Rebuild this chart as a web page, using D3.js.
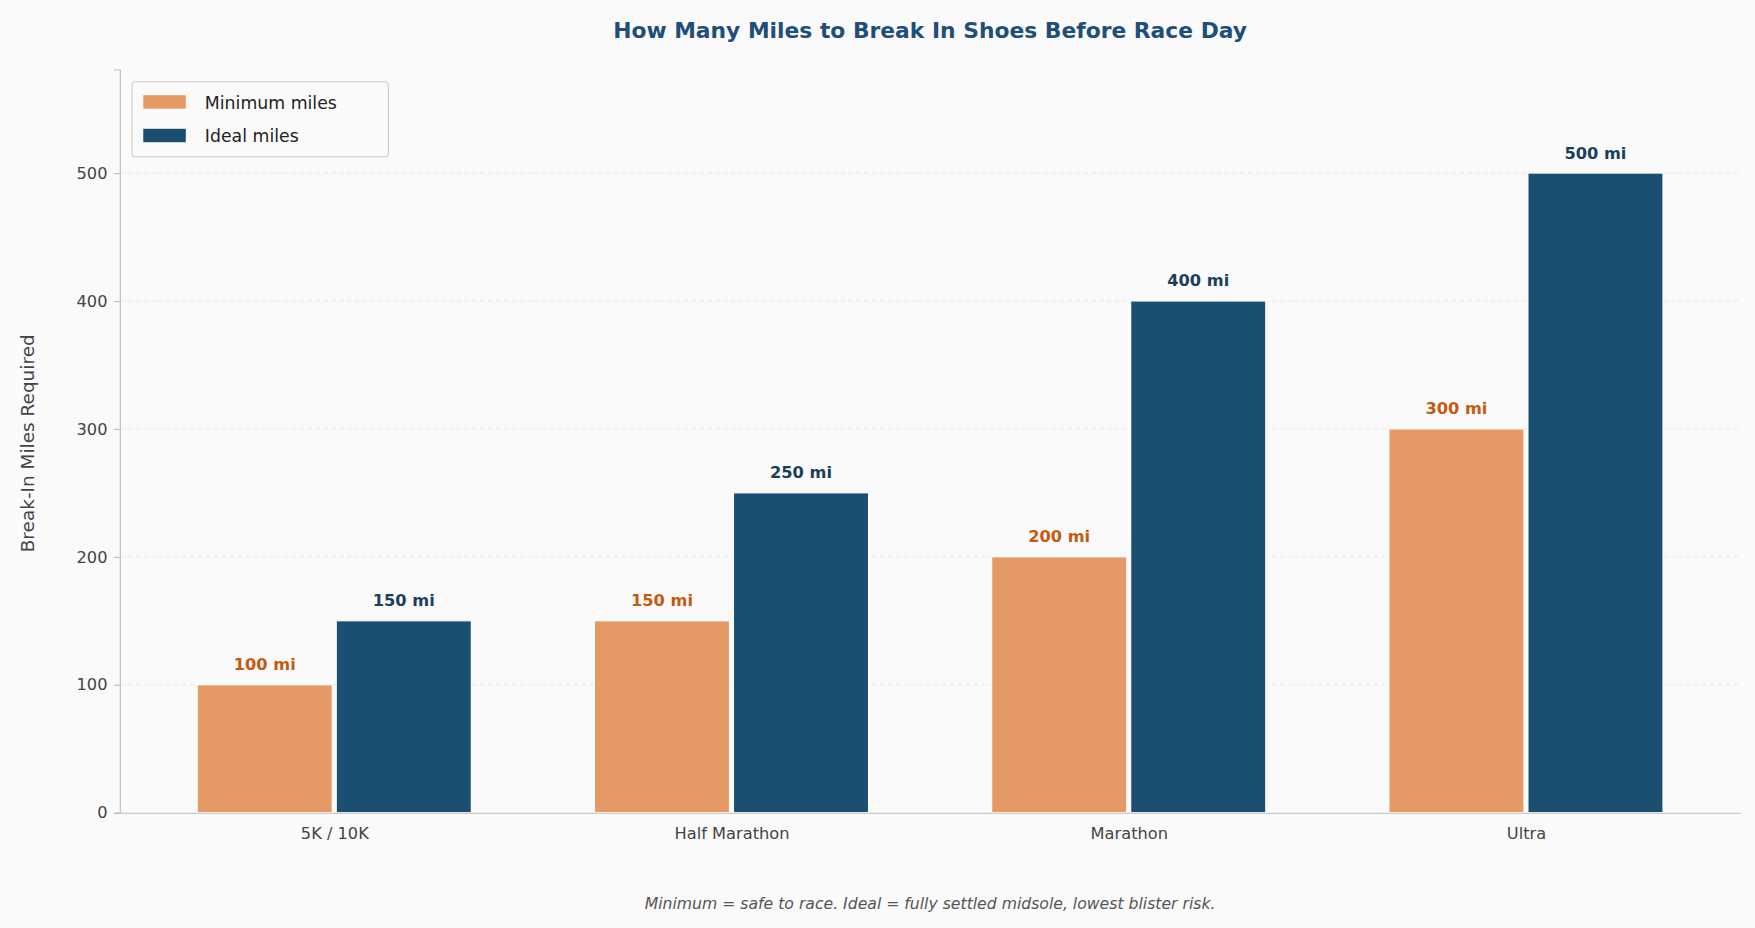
<!DOCTYPE html>
<html><head><meta charset="utf-8">
<script src="https://cdn.jsdelivr.net/npm/d3@7"></script>
<style>body{margin:0;background:#fafafa}svg{display:block}text{font-family:"DejaVu Sans",sans-serif}</style>
</head><body>
<svg id="c" width="1755" height="928" viewBox="0 0 1568 829"></svg>
<script>
const categories = ["5K / 10K","Half Marathon","Marathon","Ultra"];
const minimumMiles = [100,150,200,300];
const idealMiles = [150,250,400,500];
const yTicks = [0,100,200,300,400,500];
const seriesNames = ["Minimum miles","Ideal miles"];

const svg = d3.select("#c");
svg.append("rect").attr("width",1568).attr("height",829).attr("fill","#fafafa");
const L=107,R=1555,T=62,B=726;
const x = d3.scaleLinear().domain([-0.54,3.54]).range([L,R]);
const y = d3.scaleLinear().domain([0,581]).range([B,T]);
const colors=["#e59a66","#1b4f72"], lblColors=["#c55a11","#1b3f5a"];

svg.append("g").selectAll("line").data(yTicks.slice(1)).join("line")
 .attr("x1",L).attr("x2",R).attr("y1",d=>y(d)).attr("y2",d=>y(d))
 .attr("stroke","#e4e4e4").attr("stroke-dasharray","4,3").attr("stroke-width",0.8);

const bw=0.34;
[minimumMiles,idealMiles].forEach((arr,si)=>{
  const off = si===0 ? -bw-0.005 : 0.005;
  const g=svg.append("g");
  g.selectAll("rect").data(arr).join("rect")
   .attr("x",(d,i)=>x(i+off)).attr("width",x(bw)-x(0))
   .attr("y",d=>y(d)).attr("height",d=>B-y(d))
   .attr("fill",colors[si]).attr("stroke","#fff").attr("stroke-width",1);
  g.selectAll("text").data(arr).join("text")
   .attr("x",(d,i)=>x(i+off+bw/2)).attr("y",d=>y(d)-13)
   .attr("text-anchor","middle").attr("font-size",14.5).attr("font-weight","bold")
   .attr("fill",lblColors[si]).text(d=>d+" mi");
});

const ya=svg.append("g").attr("transform",`translate(${L},0)`)
 .call(d3.axisLeft(y).tickValues(yTicks).tickSize(5).tickPadding(6));
ya.select(".domain").attr("stroke","#bbb");
ya.selectAll(".tick line").attr("stroke","#bbb");
ya.selectAll("text").attr("font-size",14.5).attr("fill","#444").style("font-family","DejaVu Sans");

const xa=svg.append("g").attr("transform",`translate(0,${B})`)
 .call(d3.axisBottom(x).tickValues([0,1,2,3]).tickFormat(i=>categories[i]).tickSize(0).tickPadding(13));
xa.select(".domain").attr("stroke","#bbb");
xa.selectAll("text").attr("font-size",14.5).attr("fill","#444").style("font-family","DejaVu Sans");

svg.append("text").attr("x",831).attr("y",34).attr("text-anchor","middle")
 .attr("font-size",19.5).attr("font-weight","bold").attr("fill","#1f4e79")
 .text("How Many Miles to Break In Shoes Before Race Day");
svg.append("text").attr("transform","translate(30,396) rotate(-90)").attr("text-anchor","middle")
 .attr("font-size",16.5).attr("fill","#444").text("Break-In Miles Required");
svg.append("text").attr("x",831).attr("y",812).attr("text-anchor","middle")
 .attr("font-size",14).attr("font-style","italic").attr("fill","#555")
 .text("Minimum = safe to race. Ideal = fully settled midsole, lowest blister risk.");

const lg=svg.append("g").attr("transform","translate(118,73)");
lg.append("rect").attr("width",229).attr("height",67).attr("rx",3).attr("fill","#fafafa").attr("stroke","#ccc");
seriesNames.forEach((n,i)=>{
  lg.append("rect").attr("x",10).attr("y",12+i*30).attr("width",38).attr("height",12).attr("fill",colors[i]);
  lg.append("text").attr("x",65).attr("y",24+i*30).attr("font-size",15.5).attr("fill","#222").text(n);
});
</script>
</body></html>
